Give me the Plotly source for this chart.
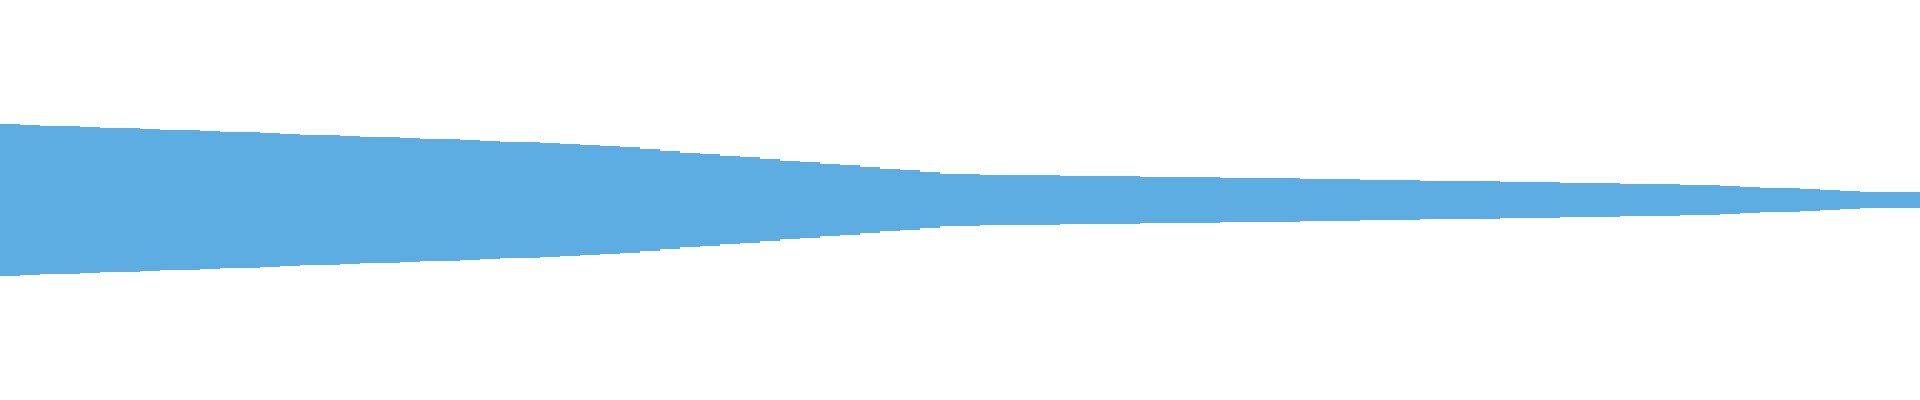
import plotly.graph_objects as go

# Stage labels and remaining counts (thousands) per stage
stages = [f"Stage {i}" for i in range(1, 97)]
remaining = [
    379, 375, 372, 368, 365, 361, 358, 355, 351, 348,
    344, 341, 338, 334, 331, 327, 324, 321, 317, 314,
    310, 307, 303, 300, 295, 292, 288, 284, 280, 275,
    271, 264, 255, 246, 237, 229, 221, 213, 205, 197,
    189, 181, 173, 165, 156, 148, 139, 131, 129, 127,
    125, 124, 123, 121, 120, 119, 118, 116, 115, 114,
    113, 111, 110, 109, 108, 107, 105, 104, 102, 100,
    99, 97, 96, 94, 93, 91, 90, 88, 87, 85,
    84, 82, 81, 79, 76, 73, 70, 66, 62, 58,
    54, 50, 46, 42, 39, 38,
]

BAR_COLOR = "#5DADE2"

fig = go.Figure(
    go.Funnel(
        x=stages,
        y=remaining,
        orientation="v",
        marker=dict(color=BAR_COLOR, line=dict(width=0, color=BAR_COLOR)),
        connector=dict(visible=False),
        textinfo="none",
        hoverinfo="x+y",
    )
)

fig.update_layout(
    width=1920,
    height=400,
    margin=dict(l=0, r=0, t=0, b=0, pad=0),
    paper_bgcolor="white",
    plot_bgcolor="white",
    funnelgap=0,
    showlegend=False,
    xaxis=dict(visible=False),
    yaxis=dict(visible=False, range=[-500, 500]),
)

fig.write_html(
    "out.html",
    config={"displayModeBar": False},
    post_script="document.body.style.margin='0';document.body.style.overflow='hidden';",
)
